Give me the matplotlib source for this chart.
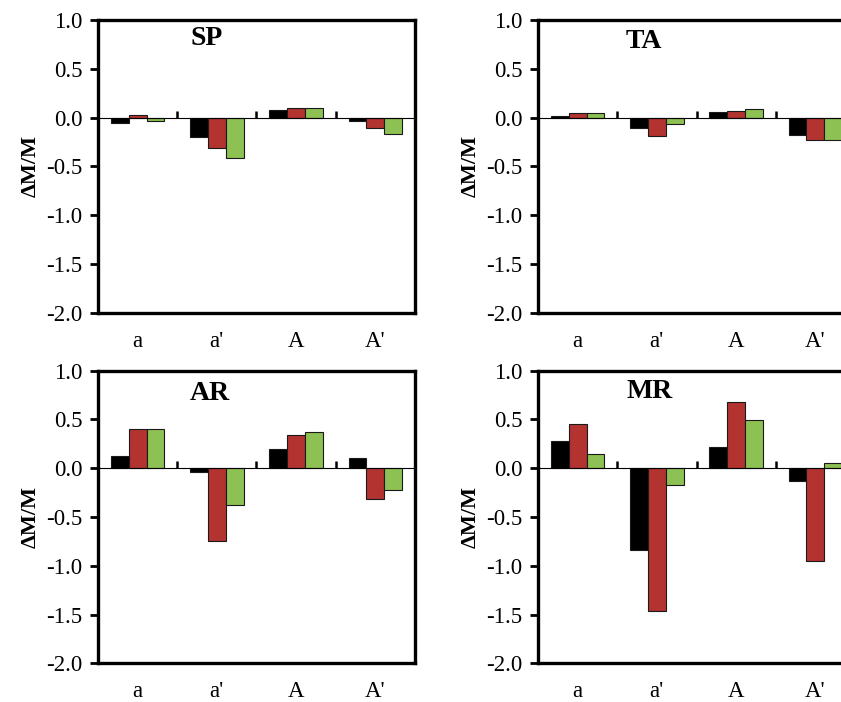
"""Four-panel grouped bar chart of dM/M per parameter (SP, TA, AR, MR)."""

import numpy as np
import matplotlib
matplotlib.use('Agg')
import matplotlib.pyplot as plt

plt.rcParams['font.family'] = ['Liberation Serif', 'DejaVu Serif']

# Data
categories = ['a', "a'", 'A', "A'"]
panel_names = ['SP', 'TA', 'AR', 'MR']

sp_black = [-0.06, -0.20, 0.08, -0.04]
sp_red = [0.03, -0.31, 0.10, -0.11]
sp_green = [-0.04, -0.41, 0.10, -0.17]

ta_black = [0.02, -0.11, 0.06, -0.18]
ta_red = [0.05, -0.19, 0.07, -0.23]
ta_green = [0.05, -0.07, 0.09, -0.23]

ar_black = [0.13, -0.04, 0.20, 0.10]
ar_red = [0.40, -0.75, 0.34, -0.32]
ar_green = [0.40, -0.38, 0.37, -0.22]

mr_black = [0.28, -0.84, 0.22, -0.13]
mr_red = [0.45, -1.46, 0.68, -0.95]
mr_green = [0.15, -0.17, 0.49, 0.05]

yticks = [1.0, 0.5, 0.0, -0.5, -1.0, -1.5, -2.0]

series = {
    'SP': (sp_black, sp_red, sp_green),
    'TA': (ta_black, ta_red, ta_green),
    'AR': (ar_black, ar_red, ar_green),
    'MR': (mr_black, mr_red, mr_green),
}
colors = ['#000000', '#B23330', '#8DC153']

W, H = 841, 702
fig = plt.figure(figsize=(W / 100, H / 100), dpi=100)
fig.patch.set_facecolor('white')

# axes boxes in pixels: (left, top, width, height)
boxes = {
    'SP': (98, 20, 317, 292.7),
    'TA': (538, 20, 317, 292.7),
    'AR': (98, 370.7, 317, 292.6),
    'MR': (538, 370.7, 317, 292.6),
}
title_pos = {'SP': (0.344, 0.937), 'TA': (0.334, 0.928),
             'AR': (0.353, 0.922), 'MR': (0.353, 0.928)}

x = np.arange(len(categories))
bw = 0.224

for name in panel_names:
    l, t, w, h = boxes[name]
    ax = fig.add_axes([l / W, 1 - (t + h) / H, w / W, h / H])
    for i, (vals, c) in enumerate(zip(series[name], colors)):
        ax.bar(x + (i - 1) * bw, vals, width=bw, color=c,
               edgecolor='#1a1a1a', linewidth=0.8, zorder=2)

    ax.set_xlim(-0.5, 3.5)
    ax.set_ylim(-2.0, 1.0)
    ax.set_yticks(yticks)
    ax.set_yticklabels([f'{v:.1f}' for v in yticks], fontsize=16.5)
    ax.tick_params(axis='y', direction='out', length=6, width=2, pad=5)
    ax.set_xticks(x)
    ax.set_xticklabels(categories, fontsize=16.5)
    ax.tick_params(axis='x', length=0, pad=13)
    for sp in ax.spines.values():
        sp.set_linewidth(2.4)

    # zero line with boundary tick marks
    zero = ax.secondary_xaxis(2 / 3)
    zero.set_xticks([0.5, 1.5, 2.5])
    zero.set_xticklabels([])
    zero.tick_params(direction='out', length=5, width=1.8)
    zero.spines['bottom'].set_linewidth(1.8)
    zero.set_zorder(3)

    ax.set_ylabel('ΔM/M', fontsize=16, fontweight='bold', labelpad=4)
    ax.text(*title_pos[name], name, transform=ax.transAxes, ha='center',
            va='center', fontsize=20, fontweight='bold')

plt.savefig('out.png', dpi=100, facecolor='white')
print("Saved: out.png")
